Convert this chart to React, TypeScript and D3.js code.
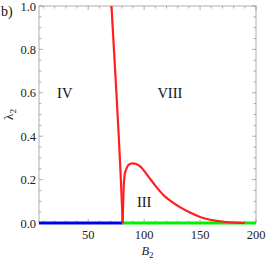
import React from "react";
import * as d3 from "d3";

const steepB = [70.8, 73, 75.2, 77.3, 79.2, 80.2, 80.8];
const steepL = [1.0, 0.8, 0.6, 0.4, 0.2, 0.08, 0.0];
const humpB = [80.8, 81.4, 82.5, 84.3, 86, 89.6, 93, 96.2, 100, 105, 110, 114, 118, 123, 132, 141, 150, 159, 168, 177, 185, 190];
const humpL = [0, 0.12, 0.22, 0.252, 0.268, 0.275, 0.272, 0.262, 0.24, 0.206, 0.172, 0.147, 0.125, 0.104, 0.073, 0.048, 0.028, 0.015, 0.008, 0.003, 0.001, 0];
const blueB = [6, 80.8];
const greenB = [80.8, 200];
const xTicks = [50, 100, 150, 200];
const yTicks = [0, 0.2, 0.4, 0.6, 0.8, 1.0];
const regionLabels = ["IV", "VIII", "III"];
const regionB = [29, 123, 100];
const regionL = [0.6, 0.6, 0.098];

const W = 268, H = 262;
const L = 39, R = 256, T = 6, B = 223;

export default function App() {
  const x = d3.scaleLinear().domain([6, 200]).range([L, R]);
  const y = d3.scaleLinear().domain([0, 1]).range([B, T]);
  const lineX = d3.line<[number, number]>().x(d => x(d[0])).y(d => y(d[1])).curve(d3.curveMonotoneX);
  const lineY = d3.line<[number, number]>().x(d => x(d[0])).y(d => y(d[1])).curve(d3.curveMonotoneY);
  const steep = steepB.map((b, i) => [b, steepL[i]] as [number, number]);
  const hump = humpB.map((b, i) => [b, humpL[i]] as [number, number]);
  const xMinor = d3.range(10, 201, 10);
  const yMinor = d3.range(0, 1.0001, 0.05);
  const axisCol = "#9a9a9a";
  const font = "Liberation Serif, Times New Roman, DejaVu Serif, serif";
  const ts = { fontFamily: font };
  return (
    <svg width={W} height={H} style={{ position: "absolute", left: 0, top: 0, fontFamily: font }}>
      <rect width={W} height={H} fill="#fff" />
      {xMinor.filter(v => v >= 6).map(v => {
        const major = v % 50 === 0;
        const len = major ? 4 : 2.5;
        return (
          <g key={"xt" + v} stroke={axisCol} strokeWidth={0.8}>
            <line x1={x(v)} x2={x(v)} y1={B} y2={B - len} />
            <line x1={x(v)} x2={x(v)} y1={T} y2={T + len} />
          </g>
        );
      })}
      {yMinor.map(v => {
        const major = Math.abs(v * 5 - Math.round(v * 5)) < 1e-6;
        const len = major ? 4 : 2.5;
        return (
          <g key={"yt" + v} stroke={axisCol} strokeWidth={0.8}>
            <line x1={L} x2={L + len} y1={y(v)} y2={y(v)} />
            <line x1={R} x2={R - len} y1={y(v)} y2={y(v)} />
          </g>
        );
      })}
      <rect x={L} y={T} width={R - L} height={B - T} fill="none" stroke={axisCol} strokeWidth={0.8} />
      <path d={lineX(blueB.map(b => [b, 0] as [number, number])) || ""} stroke="#0000f0" strokeWidth={3.2} fill="none" />
      <path d={lineX(greenB.map(b => [b, 0] as [number, number])) || ""} stroke="#00f000" strokeWidth={3.2} fill="none" />
      <path d={lineY(steep) || ""} stroke="#ff1f1f" strokeWidth={2.2} fill="none" />
      <path d={lineX(hump) || ""} stroke="#ff1f1f" strokeWidth={2.2} fill="none" />
      {xTicks.map(v => (
        <text key={"xl" + v} x={x(v)} y={B + 16} textAnchor="middle" style={ts} fontSize={12.5} fill="#222">{v}</text>
      ))}
      {yTicks.map(v => (
        <text key={"yl" + v} x={L - 3} y={y(v) + 4.5} textAnchor="end" style={ts} fontSize={12.5} fill="#222">{v.toFixed(1)}</text>
      ))}
      {regionLabels.map((t, i) => (
        <text key={t} x={x(regionB[i])} y={y(regionL[i]) + 5} textAnchor="middle" style={ts} fontSize={14.5} fill="#111">{t}</text>
      ))}
      <text x={(L + R) / 2} y={255} textAnchor="middle" style={ts} fontSize={12.5} fontStyle="italic" fill="#222">
        B<tspan fontStyle="normal" fontSize={9} dy={3}>2</tspan>
      </text>
      <text transform={`translate(13,${(T + B) / 2}) rotate(-90)`} textAnchor="middle" style={ts} fontSize={13} fill="#222">
        λ<tspan fontSize={9} dy={3}>2</tspan>
      </text>
      <text x={1} y={16} style={ts} fontSize={14} fill="#111">b)</text>
    </svg>
  );
}
